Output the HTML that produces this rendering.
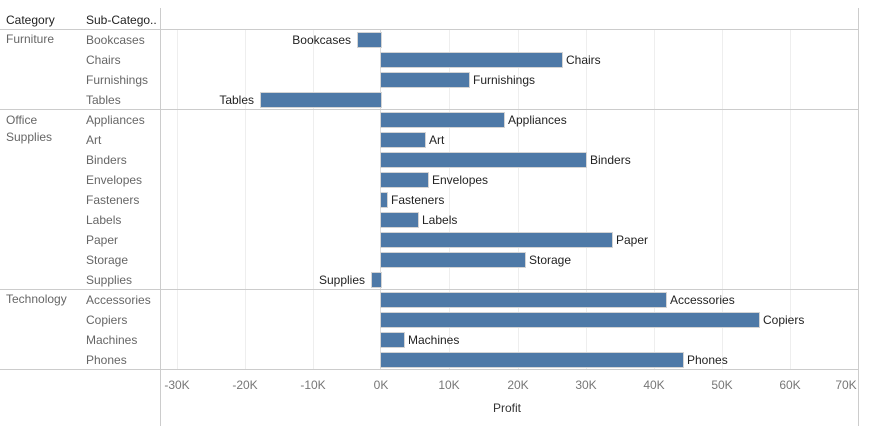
<!DOCTYPE html>
<html><head><style>
body{margin:0;width:873px;height:426px;background:#fff;font-family:"Liberation Sans",sans-serif;position:relative;overflow:hidden}
.a{position:absolute;white-space:nowrap}
.h{font-size:12px;color:#222;top:13px}
.c{font-size:12px;color:#666}
.s{font-size:12px;color:#666;left:86px}
.l{font-size:12px;color:#222}
.t{font-size:12px;color:#777;top:378px;transform:translateX(-50%)}
.bar{position:absolute;height:14px;background:#4e79a7;box-shadow:0 0 0 1px #d4d4d4}
.hl{position:absolute;height:1px;background:#ccc;left:0;width:859px}
.g{position:absolute;width:1px;background:#eee;top:30px;height:339px}
</style></head><body>
<div class="a" style="left:160px;top:8px;width:1px;height:418px;background:#ccc"></div>
<div class="a" style="left:858px;top:8px;width:1px;height:418px;background:#ccc"></div>
<div class="g" style="left:177px"></div><div class="g" style="left:245px"></div><div class="g" style="left:313px"></div>
<div class="g" style="left:449px"></div><div class="g" style="left:518px"></div><div class="g" style="left:586px"></div><div class="g" style="left:654px"></div><div class="g" style="left:722px"></div><div class="g" style="left:790px"></div>
<div class="a" style="left:380px;top:30px;width:1px;height:339px;background:#ddd"></div>
<div class="hl" style="top:29px"></div><div class="hl" style="top:109px"></div><div class="hl" style="top:289px"></div><div class="hl" style="top:369px"></div>
<div class="a h" style="left:6px">Category</div><div class="a h" style="left:86px">Sub-Catego..</div>
<div class="a c" style="left:6px;top:32px">Furniture</div>
<div class="a c" style="left:6px;top:112px;line-height:17px">Office<br>Supplies</div>
<div class="a c" style="left:6px;top:292px">Technology</div>
<div id="rows"></div>
<script>
var d=[["Bookcases",358,381],["Chairs",381,562],["Furnishings",381,469],["Tables",261,381],["Appliances",381,504],["Art",381,425],["Binders",381,586],["Envelopes",381,428],["Fasteners",381,387],["Labels",381,418],["Paper",381,612],["Storage",381,525],["Supplies",372,381],["Accessories",381,666],["Copiers",381,759],["Machines",381,404],["Phones",381,683]];
var h="";
d.forEach(function(r,i){var y=30+i*20;
h+='<div class="a s" style="top:'+(y+3)+'px">'+r[0]+'</div>';
h+='<div class="bar" style="left:'+r[1]+'px;width:'+(r[2]-r[1])+'px;top:'+(y+3)+'px"></div>';
if(r[1]<381)h+='<div class="a l" style="right:'+(873-r[1]+7)+'px;top:'+(y+3)+'px">'+r[0]+'</div>';
else h+='<div class="a l" style="left:'+(r[2]+4)+'px;top:'+(y+3)+'px">'+r[0]+'</div>';});
document.getElementById("rows").innerHTML=h;
</script>
<div class="a t" style="left:177px">-30K</div><div class="a t" style="left:245px">-20K</div><div class="a t" style="left:313px">-10K</div><div class="a t" style="left:381px">0K</div><div class="a t" style="left:449px">10K</div><div class="a t" style="left:518px">20K</div><div class="a t" style="left:586px">30K</div><div class="a t" style="left:654px">40K</div><div class="a t" style="left:722px">50K</div><div class="a t" style="left:790px">60K</div><div class="a t" style="left:846px">70K</div>
<div class="a" style="left:493px;top:401px;font-size:12px;color:#333">Profit</div>
</body></html>
